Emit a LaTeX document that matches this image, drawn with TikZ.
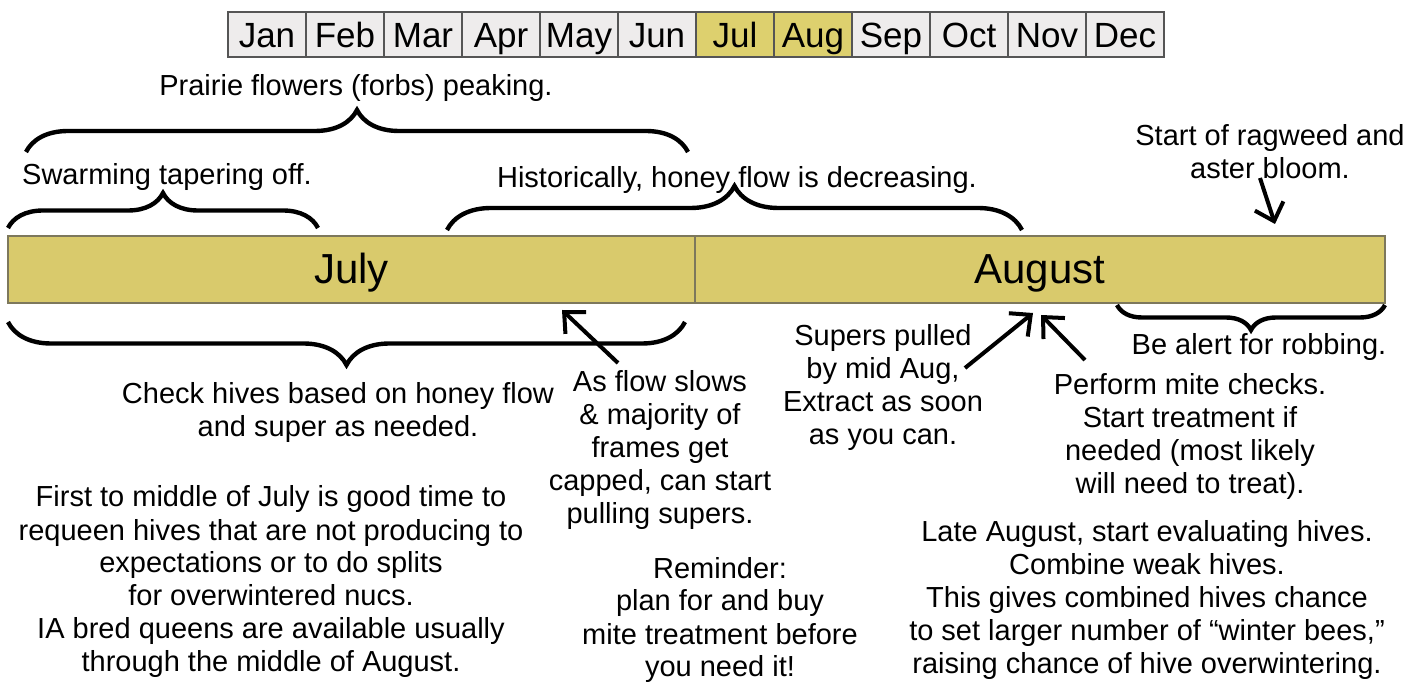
\documentclass[tikz,border=0pt]{standalone}
\usepackage{fontspec}
\setmainfont{Liberation Sans}
\usetikzlibrary{arrows.meta,decorations.pathreplacing}
\definecolor{goldbar}{HTML}{D9CA6C}
\definecolor{goldcell}{HTML}{DDD06E}
\definecolor{cellgrey}{HTML}{EEECEC}
\definecolor{edgegrey}{HTML}{555555}

\begin{document}
\begin{tikzpicture}[x=0.5pt,y=-0.5pt,
	note/.style={font=\fontsize{14.5}{16.5}\selectfont,align=center,inner sep=0pt},
	monthcell/.style={draw=edgegrey,line width=0.7pt,minimum width=39pt,minimum height=22.5pt,inner sep=0pt,text height=13.5pt,text depth=0.5pt,font=\fontsize{17.5}{20}\selectfont},
	halfbar/.style={draw=edgegrey!70!goldbar,fill=goldbar,line width=0.6pt,minimum height=33.5pt,inner sep=0pt,text height=15pt,text depth=0.5pt,font=\fontsize{21}{24}\selectfont},
	bracket/.style={decorate,decoration={brace,amplitude=#1},line width=2.2pt},
	pointer/.style={-{Straight Barb[length=8pt,width=15pt]},line width=2pt}]
	\useasboundingbox (0,0) rectangle (1426,684);

	\foreach \mon/\shade [count=\i] in {Jan/cellgrey,Feb/cellgrey,Mar/cellgrey,Apr/cellgrey,May/cellgrey,Jun/cellgrey,Jul/goldcell,Aug/goldcell,Sep/cellgrey,Oct/cellgrey,Nov/cellgrey,Dec/cellgrey}
		\node[monthcell,fill=\shade] (m\i) at ({228+78*\i-39},34.5) {\mon};

	\node[halfbar,minimum width=343.5pt] (july) at (351.5,269.5) {July};
	\node[halfbar,minimum width=345pt] (august) at (1040,269.5) {August};

	\draw[bracket=21pt] (26,152) -- (688,152);
	\draw[bracket=17.5pt] (8,228) -- (318,228);
	\draw[bracket=22pt] (447,230) -- (1022,230);
	\draw[bracket=21.5pt] (685,322) -- (8,322);
	\draw[bracket=12.5pt] (1385,305) -- (1117,305);

	\node[note] (prairie) at (356,88) {Prairie flowers (forbs) peaking.};
	\node[note] (swarm) at (167,177) {Swarming tapering off.};
	\node[note] (histflow) at (737,180) {Historically, honey flow is decreasing.};
	\node[note] (ragweed) at (1270,152) {Start of ragweed and\\aster bloom.};
	\node[note] (checkhives) at (338,413) {Check hives based on honey flow\\and super as needed.};
	\node[note] (flowslows) at (660,450) {As flow slows\\\& majority of\\frames get\\capped, can start\\pulling supers.};
	\node[note] (superspulled) at (883,388) {Supers pulled\\by mid Aug,\\Extract as soon\\as you can.};
	\node[note] (robbing) at (1259,347) {Be alert for robbing.};
	\node[note] (mitecheck) at (1190,436) {Perform mite checks.\\Start treatment if\\needed (most likely\\will need to treat).};
	\node[note] (requeen) at (271,582) {First to middle of July is good time to\\requeen hives that are not producing to\\expectations or to do splits\\for overwintered nucs.\\IA bred queens are available usually\\through the middle of August.};
	\node[note] (reminder) at (720,620) {Reminder:\\plan for and buy\\mite treatment before\\you need it!};
	\node[note] (lateaug) at (1147,600) {Late August, start evaluating hives.\\Combine weak hives.\\This gives combined hives chance\\to set larger number of “winter bees,”\\raising chance of hive overwintering.};

	\coordinate (flowtail) at (618,363);
	\coordinate (flowhead) at (562,310);
	\coordinate (pulltail) at (965,368);
	\coordinate (pullhead) at (1033,313);
	\coordinate (mitetail) at (1085,360);
	\coordinate (mitehead) at (1041,315);
	\coordinate (ragtail) at (1260,178);
	\coordinate (raghead) at (1275,224);
	\draw[pointer] (flowtail) -- (flowhead);
	\draw[pointer] (pulltail) -- (pullhead);
	\draw[pointer] (mitetail) -- (mitehead);
	\draw[pointer] (ragtail) -- (raghead);
\end{tikzpicture}
\end{document}
